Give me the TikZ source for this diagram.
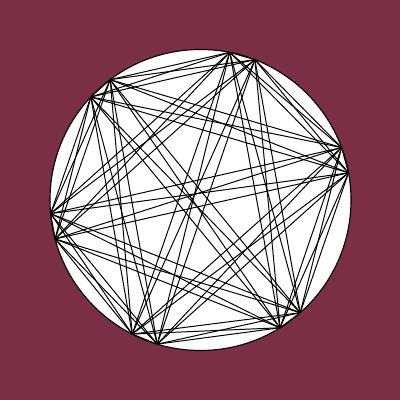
\documentclass[tikz,border=0pt]{standalone}
\usetikzlibrary{calc}
\definecolor{bgmaroon}{RGB}{123,47,70}
\begin{document}
\begin{tikzpicture}[x=0.025cm,y=0.025cm,chord/.style={black,line width=0.7pt}]
\useasboundingbox (0,0) rectangle (400,400);
\fill[bgmaroon] (0,0) rectangle (400,400);
\coordinate (c) at (200.5,200);
\filldraw[fill=white,draw=black,line width=0.8pt] (c) circle (150.5);
\foreach \a [count=\i] in {10.4,20.4,68.8,78.8,126.9,136.8,185.2,195.0,243,253.3,301.9,311.5}
  \coordinate (p\i) at ($(c)+(\a:150.5)$);
\foreach \i in {1,...,11}{
  \pgfmathtruncatemacro{\s}{\i+1}
  \foreach \j in {\s,...,12}{
    \draw[chord] (p\i) -- (p\j);
  }
}
\end{tikzpicture}
\end{document}
